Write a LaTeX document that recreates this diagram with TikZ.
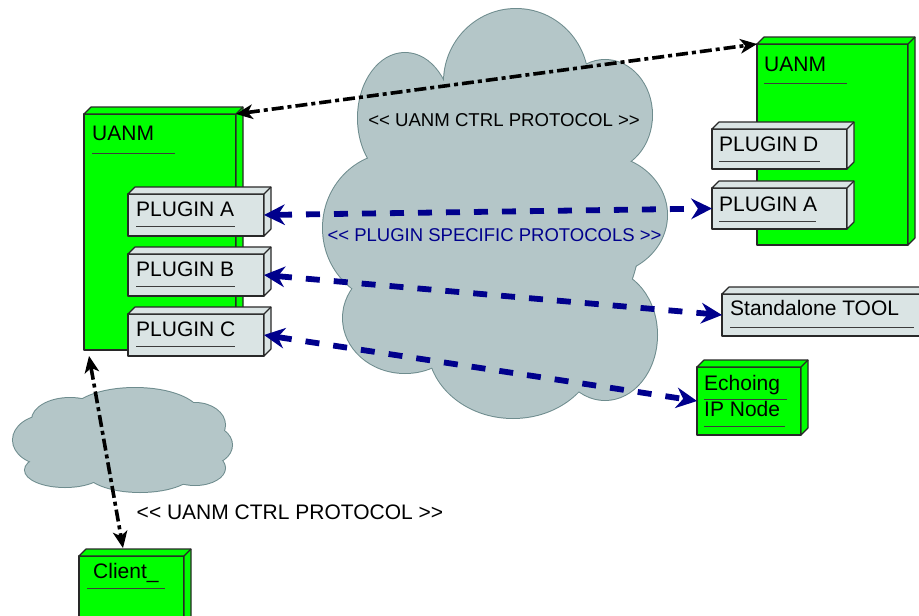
\documentclass[tikz,border=0pt]{standalone}
\usepackage{fontspec}
\setmainfont{Liberation Sans}
\usetikzlibrary{arrows.meta,calc}

\definecolor{nodegreen}{RGB}{0,255,0}
\definecolor{plugfill}{RGB}{218,228,228}
\definecolor{boxedge}{RGB}{40,40,40}
\definecolor{cloudfill}{RGB}{180,198,200}
\definecolor{cloudedge}{RGB}{110,140,142}
\definecolor{protoblue}{RGB}{0,0,140}
\definecolor{ulgray}{RGB}{60,60,60}

% top and side faces of a 3D deployment box
\newcommand\extrudeface[2]{%
  \draw[edgeline, fill=#2] (#1.north west) -- ++(7,-7)
    -- ([shift={(7,-7)}]#1.north east) -- ([shift={(7,-7)}]#1.south east)
    -- (#1.south east) -- (#1.north east) -- cycle;
  \draw[edgeline] (#1.north east) -- ++(7,-7);}

\begin{document}
\begin{tikzpicture}[x=1pt,y=-1pt,
  edgeline/.style={draw=boxedge, line width=1.1pt, line join=round},
  solid3d/.style={edgeline, inner sep=0pt, outer sep=0pt, anchor=north west},
  greenbox/.style={solid3d, fill=nodegreen},
  plugbox/.style={solid3d, fill=plugfill},
  boxlabel/.style={anchor=base west, inner sep=0pt, font=\fontsize{21}{24}\selectfont},
  uline/.style={draw=ulgray, line width=0.9pt},
  protolabel/.style={anchor=base, inner sep=0pt},
  ctrlarrow/.style={draw=black, line width=3.6pt,
    dash pattern=on 12pt off 4pt on 4pt off 4pt,
    {Stealth[length=17pt,width=15pt,inset=5pt,line width=0pt]}-{Stealth[length=17pt,width=15pt,inset=5pt,line width=0pt]}},
  plugarrow/.style={draw=protoblue, line width=5.8pt,
    dash pattern=on 14pt off 14pt,
    {Stealth[length=21pt,width=21pt,inset=7pt,line width=0pt]}-{Stealth[length=21pt,width=21pt,inset=7pt,line width=0pt]}},
  cloudpart/.style={draw=cloudedge, line width=2pt},
]
\useasboundingbox (0,0) rectangle (919,616);

% large cloud: outlined union of ellipses, then filled
\foreach \cx/\cy/\rx/\ry in {516/82/72/73, 405/118/47/65, 395/228/72/75,
    405/318/62/55, 513/345/85/73, 605/335/52/65, 600/215/67/60,
    605/115/47/55, 510/230/130/140}
  \draw[cloudpart] (\cx,\cy) ellipse [x radius=\rx pt, y radius=\ry pt];
\foreach \cx/\cy/\rx/\ry in {516/82/72/73, 405/118/47/65, 395/228/72/75,
    405/318/62/55, 513/345/85/73, 605/335/52/65, 600/215/67/60,
    605/115/47/55, 510/230/130/140}
  \fill[cloudfill] (\cx,\cy) ellipse [x radius=\rx pt, y radius=\ry pt];

% small cloud
\foreach \cx/\cy/\rx/\ry in {48/440/35/25, 70/420/38/22, 135/415/65/27,
    195/425/30/22, 205/445/27/20, 195/468/30/17, 140/470/55/22,
    65/470/40/17, 122/445/95/30}
  \draw[cloudpart] (\cx,\cy) ellipse [x radius=\rx pt, y radius=\ry pt];
\foreach \cx/\cy/\rx/\ry in {48/440/35/25, 70/420/38/22, 135/415/65/27,
    195/425/30/22, 205/445/27/20, 195/468/30/17, 140/470/55/22,
    65/470/40/17, 122/445/95/30}
  \fill[cloudfill] (\cx,\cy) ellipse [x radius=\rx pt, y radius=\ry pt];

% left UANM with its plugins
\node[greenbox, minimum width=152pt, minimum height=236pt] (uanmL) at (84,114) {};
\extrudeface{uanmL}{nodegreen}
\node[boxlabel] (uanmLt) at ([shift={(8,26)}]uanmL.north west) {UANM};
\draw[uline] ([shift={(0,13)}]uanmLt.base west) -- ++(83,0);

\node[plugbox, minimum width=136pt, minimum height=42pt] (pa) at (128,194) {};
\extrudeface{pa}{plugfill}
\node[boxlabel] (pat) at ([shift={(8,22)}]pa.north west) {PLUGIN A};
\draw[uline] ([shift={(0,10)}]pat.base west) -- ++(99,0);

\node[plugbox, minimum width=136pt, minimum height=42pt] (pb) at (128,254) {};
\extrudeface{pb}{plugfill}
\node[boxlabel] (pbt) at ([shift={(8,22)}]pb.north west) {PLUGIN B};
\draw[uline] ([shift={(0,10)}]pbt.base west) -- ++(99,0);

\node[plugbox, minimum width=136pt, minimum height=42pt] (pc) at (128,314) {};
\extrudeface{pc}{plugfill}
\node[boxlabel] (pct) at ([shift={(8,22)}]pc.north west) {PLUGIN C};
\draw[uline] ([shift={(0,10)}]pct.base west) -- ++(99,0);

% right UANM with its plugins
\node[greenbox, minimum width=151pt, minimum height=201pt] (uanmR) at (757,44) {};
\extrudeface{uanmR}{nodegreen}
\node[boxlabel] (uanmRt) at ([shift={(7,27)}]uanmR.north west) {UANM};
\draw[uline] ([shift={(0,12)}]uanmRt.base west) -- ++(83,0);

\node[plugbox, minimum width=135pt, minimum height=40pt] (pd) at (712,129) {};
\extrudeface{pd}{plugfill}
\node[boxlabel] (pdt) at ([shift={(7,22)}]pd.north west) {PLUGIN D};
\draw[uline] ([shift={(0,10)}]pdt.base west) -- ++(101,0);

\node[plugbox, minimum width=135pt, minimum height=41pt] (paR) at (712,188) {};
\extrudeface{paR}{plugfill}
\node[boxlabel] (paRt) at ([shift={(7,23)}]paR.north west) {PLUGIN A};
\draw[uline] ([shift={(0,10)}]paRt.base west) -- ++(97,0);

% standalone tool
\node[plugbox, minimum width=200pt, minimum height=42pt] (tool) at (722,294) {};
\extrudeface{tool}{plugfill}
\node[boxlabel] (toolt) at ([shift={(8,21)}]tool.north west) {Standalone TOOL};
\draw[uline] ([shift={(0,12)}]toolt.base west) -- ++(184,0);

% echoing IP node
\node[greenbox, minimum width=104pt, minimum height=68pt] (echo) at (697,367) {};
\extrudeface{echo}{nodegreen}
\node[boxlabel] (echot) at ([shift={(7,23)}]echo.north west) {Echoing};
\draw[uline] ([shift={(0,9)}]echot.base west) -- ++(83,0);
\node[boxlabel] (echob) at ([shift={(7,49)}]echo.north west) {IP Node};
\draw[uline] ([shift={(0,10)}]echob.base west) -- ++(81,0);

% client
\node[greenbox, minimum width=105pt, minimum height=70pt] (client) at (79,556) {};
\extrudeface{client}{nodegreen}
\node[boxlabel] (clientt) at ([shift={(14,22)}]client.north west) {Client\_};
\draw[uline] ([shift={(-6,10)}]clientt.base west) -- ++(78,0);

% control protocol links
\draw[ctrlarrow] (uanmL.north east) -- (uanmR.north west);
\draw[ctrlarrow] ([shift={(5,6)}]uanmL.south west) -- ([shift={(44,-8)}]client.north west);

% plugin protocol links
\draw[plugarrow] (pa.east) -- (paR.west);
\draw[plugarrow] (pb.east) -- (tool.west);
\draw[plugarrow] (pc.east) -- (echo.west);

% protocol labels
\node[protolabel, font=\fontsize{18.6}{22}\selectfont] (ctrltop) at (504,126) {{<}{<} UANM CTRL PROTOCOL {>}{>}};
\node[protolabel, text=protoblue, font=\fontsize{18.5}{22}\selectfont] (pluglbl) at (494.5,241) {{<}{<} PLUGIN SPECIFIC PROTOCOLS {>}{>}};
\node[protolabel, font=\fontsize{21}{24}\selectfont] (ctrlbot) at (290,519) {{<}{<} UANM CTRL PROTOCOL {>}{>}};
\end{tikzpicture}
\end{document}
